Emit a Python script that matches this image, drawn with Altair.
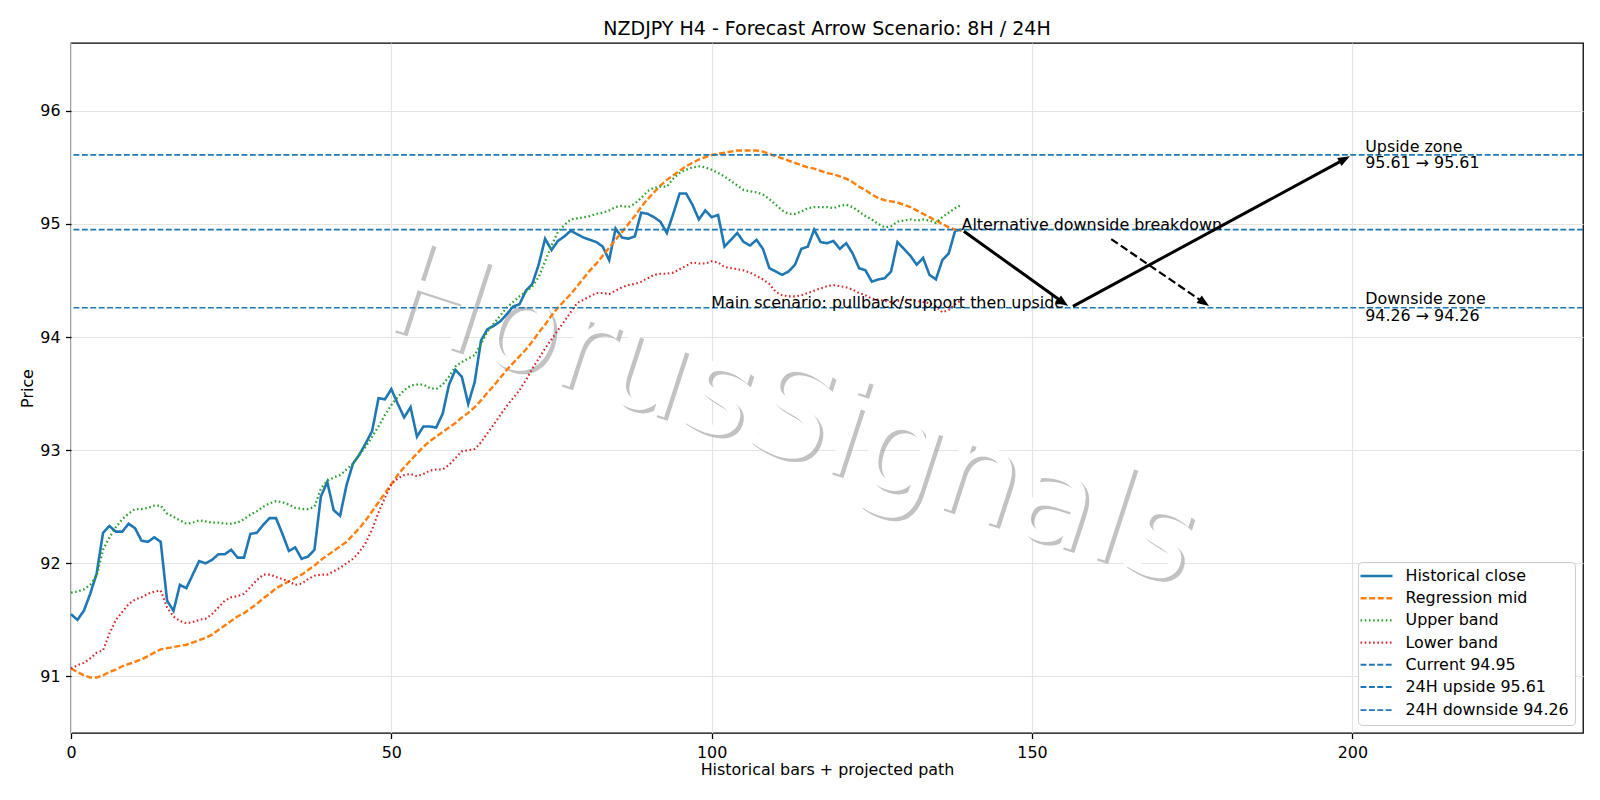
import math
import altair as alt
import pandas as pd

# ---------------- data ----------------
close = [91.55, 91.50, 91.58, 91.73, 91.91, 92.27, 92.33, 92.28, 92.28, 92.35,
         92.31, 92.20, 92.19, 92.23, 92.19, 91.67, 91.58, 91.81, 91.78, 91.90,
         92.02, 92.00, 92.03, 92.08, 92.08, 92.12, 92.05, 92.05, 92.26, 92.27,
         92.34, 92.40, 92.40, 92.26, 92.11, 92.14, 92.04, 92.06, 92.12, 92.59,
         92.72, 92.47, 92.42, 92.69, 92.88, 92.96, 93.06, 93.17, 93.46, 93.45,
         93.54, 93.41, 93.29, 93.38, 93.12, 93.21, 93.21, 93.20, 93.32, 93.58,
         93.71, 93.65, 93.41, 93.60, 93.97, 94.07, 94.10, 94.14, 94.20, 94.27,
         94.29, 94.41, 94.47, 94.64, 94.87, 94.77, 94.85, 94.89, 94.94, 94.91,
         94.88, 94.86, 94.84, 94.80, 94.68, 94.96, 94.88, 94.87, 94.89, 95.10,
         95.09, 95.06, 95.02, 94.92, 95.09, 95.27, 95.27, 95.17, 95.04, 95.12,
         95.06, 95.08, 94.80, 94.86, 94.92, 94.84, 94.81, 94.86, 94.78, 94.61,
         94.58, 94.55, 94.58, 94.64, 94.78, 94.80, 94.95, 94.84, 94.83, 94.85,
         94.78, 94.83, 94.74, 94.61, 94.59, 94.49, 94.51, 94.52, 94.58, 94.84,
         94.78, 94.72, 94.64, 94.70, 94.55, 94.51, 94.68, 94.74, 94.94, 94.95]

reg_mid = [91.07, 91.04, 91.01, 90.99, 90.99, 91.01, 91.04, 91.06, 91.09, 91.11,
           91.13, 91.15, 91.18, 91.21, 91.24, 91.25, 91.26, 91.27, 91.28, 91.30,
           91.32, 91.34, 91.37, 91.41, 91.45, 91.49, 91.53, 91.56, 91.60, 91.64,
           91.69, 91.73, 91.78, 91.81, 91.84, 91.87, 91.90, 91.94, 91.98, 92.03,
           92.07, 92.11, 92.15, 92.19, 92.25, 92.31, 92.38, 92.46, 92.54, 92.62,
           92.70, 92.78, 92.85, 92.91, 92.97, 93.03, 93.08, 93.12, 93.16, 93.20,
           93.24, 93.29, 93.33, 93.38, 93.44, 93.51, 93.57, 93.64, 93.71, 93.77,
           93.83, 93.89, 93.96, 94.04, 94.11, 94.19, 94.26, 94.32, 94.38, 94.45,
           94.52, 94.59, 94.65, 94.72, 94.79, 94.86, 94.93, 95.00, 95.07, 95.15,
           95.22, 95.28, 95.34, 95.39, 95.43, 95.47, 95.51, 95.54, 95.57, 95.59,
           95.61, 95.62, 95.63, 95.64, 95.65, 95.65, 95.65, 95.65, 95.64, 95.62,
           95.60, 95.58, 95.56, 95.54, 95.52, 95.50, 95.49, 95.47, 95.45, 95.44,
           95.42, 95.40, 95.37, 95.33, 95.30, 95.26, 95.23, 95.21, 95.20, 95.19,
           95.17, 95.15, 95.12, 95.09, 95.06, 95.03, 95.00, 94.97, 94.95, 94.94]

upper = [91.74, 91.75, 91.77, 91.81, 91.89, 92.12, 92.23, 92.32, 92.39, 92.44,
         92.48, 92.48, 92.49, 92.51, 92.51, 92.44, 92.41, 92.38, 92.35, 92.36,
         92.38, 92.37, 92.36, 92.36, 92.35, 92.35, 92.36, 92.39, 92.43, 92.46,
         92.50, 92.53, 92.55, 92.54, 92.52, 92.49, 92.48, 92.48, 92.50, 92.66,
         92.73, 92.76, 92.78, 92.83, 92.88, 92.96, 93.03, 93.12, 93.21, 93.31,
         93.40, 93.47, 93.53, 93.57, 93.58, 93.58, 93.55, 93.54, 93.58, 93.65,
         93.74, 93.78, 93.81, 93.84, 93.94, 94.05, 94.12, 94.19, 94.26, 94.31,
         94.36, 94.40, 94.45, 94.53, 94.67, 94.81, 94.93, 94.99, 95.04, 95.05,
         95.06, 95.07, 95.09, 95.10, 95.12, 95.15, 95.16, 95.15, 95.18, 95.23,
         95.29, 95.32, 95.33, 95.33, 95.40, 95.45, 95.48, 95.50, 95.51, 95.50,
         95.48, 95.45, 95.42, 95.38, 95.34, 95.30, 95.29, 95.28, 95.26, 95.22,
         95.17, 95.12, 95.09, 95.09, 95.11, 95.14, 95.15, 95.15, 95.15, 95.14,
         95.16, 95.17, 95.15, 95.11, 95.07, 95.04, 95.00, 94.97, 94.98, 95.02,
         95.03, 95.04, 95.03, 95.04, 95.03, 95.01, 95.06, 95.10, 95.14, 95.17]

lower = [91.07, 91.10, 91.12, 91.16, 91.21, 91.23, 91.38, 91.50, 91.57, 91.64,
         91.68, 91.70, 91.73, 91.75, 91.76, 91.61, 91.53, 91.49, 91.47, 91.48,
         91.50, 91.51, 91.55, 91.61, 91.67, 91.70, 91.71, 91.73, 91.79, 91.85,
         91.90, 91.90, 91.88, 91.86, 91.84, 91.81, 91.82, 91.86, 91.89, 91.90,
         91.90, 91.93, 91.96, 92.00, 92.04, 92.10, 92.18, 92.30, 92.45, 92.58,
         92.70, 92.75, 92.78, 92.79, 92.77, 92.79, 92.82, 92.83, 92.83, 92.87,
         92.93, 92.99, 93.00, 93.01, 93.07, 93.15, 93.23, 93.31, 93.39, 93.46,
         93.53, 93.62, 93.72, 93.81, 93.90, 93.98, 94.06, 94.14, 94.22, 94.30,
         94.33, 94.36, 94.39, 94.39, 94.38, 94.41, 94.44, 94.46, 94.47, 94.49,
         94.52, 94.55, 94.56, 94.56, 94.57, 94.60, 94.63, 94.66, 94.65, 94.65,
         94.67, 94.66, 94.62, 94.61, 94.60, 94.59, 94.57, 94.54, 94.51, 94.47,
         94.40, 94.37, 94.36, 94.36, 94.37, 94.39, 94.41, 94.43, 94.45, 94.46,
         94.45, 94.44, 94.42, 94.39, 94.37, 94.34, 94.33, 94.32, 94.31, 94.32,
         94.33, 94.33, 94.32, 94.31, 94.30, 94.27, 94.22, 94.24, 94.29, 94.33]

bars = list(range(len(close)))

current_level = 94.95
upside_level = 95.61
downside_level = 94.26

series_names = ["Historical close", "Regression mid", "Upper band", "Lower band",
                "Current 94.95", "24H upside 95.61", "24H downside 94.26"]
series_colors = ["#1f77b4", "#ff7f0e", "#2ca02c", "#d62728",
                 "#1f77b4", "#1f77b4", "#1f77b4"]
series_dash = [[1, 0], [6, 2.6], [1.6, 2.6], [1.6, 2.6],
               [5.9, 2.5], [5.9, 2.5], [5.9, 2.5]]
series_width = [2.6, 1.6, 1.6, 1.6, 1.6, 1.6, 1.6]

# arrows (start -> end) in data coordinates
arrow_x0 = [139, 156, 162]
arrow_y0 = [94.95, 94.26, 94.88]
arrow_x1 = [156, 200, 178]
arrow_y1 = [94.26, 95.61, 94.26]
arrow_dashed = [False, False, True]

note_text = ["Alternative downside breakdown", "Main scenario: pullback/support then upside"]
note_x = [139, 155]
note_y = [94.95, 94.26]

zone_text = ["Upside zone\n95.61 \u2192 95.61", "Downside zone\n94.26 \u2192 94.26"]
zone_x = [202, 202]
zone_y = [95.61, 94.26]

x_ticks = [0, 50, 100, 150, 200]
y_ticks = [91, 92, 93, 94, 95, 96]
x_domain = [0, 236]
y_domain = [90.5, 96.6]

watermark = "HorusSignals"
title_text = "NZDJPY H4 - Forecast Arrow Scenario: 8H / 24H"

# ---------------- layout ----------------
FIG_W, FIG_H = 1600, 800
PAD_L, PAD_T, PAD_R, PAD_B = 71, 43, 17, 67
W = FIG_W - PAD_L - PAD_R
H = FIG_H - PAD_T - PAD_B
FONT = "DejaVu Sans"
FS = 15.9          # 10pt text
LINE_H = 16.5      # zone text line height

# ---------------- frames ----------------
line_rows = []
for name, vals in zip(series_names[:4], [close, reg_mid, upper, lower]):
    for b, v in zip(bars, vals):
        line_rows.append({"bar": b, "price": v, "series": name})
lines_df = pd.DataFrame(line_rows)

levels_df = pd.DataFrame({"series": series_names[4:],
                          "level": [current_level, upside_level, downside_level]})

sx = W / (x_domain[1] - x_domain[0])
sy = H / (y_domain[1] - y_domain[0])
shrink = 2.8
head_len = 12.0
arrow_rows = []
for x0, y0, x1, y1, d in zip(arrow_x0, arrow_y0, arrow_x1, arrow_y1, arrow_dashed):
    vx = (x1 - x0) * sx
    vy = -(y1 - y0) * sy
    L = math.hypot(vx, vy)
    ux, uy = vx / L, vy / L
    tx, ty = x1 - ux * shrink / sx, y1 + uy * shrink / sy
    bx, by = x0 + ux * shrink / sx, y0 - uy * shrink / sy
    ex, ey = tx - ux * (head_len * 0.8) / sx, ty + uy * (head_len * 0.8) / sy
    ang = math.degrees(math.atan2(ux, -uy)) % 360
    arrow_rows.append({"x": bx, "y": by, "x2": ex, "y2": ey, "tx": tx, "ty": ty,
                       "ang": ang, "dashed": d})
arrows_df = pd.DataFrame(arrow_rows)

notes_df = pd.DataFrame({"text": note_text, "x": note_x, "y": note_y})
zones_df = pd.DataFrame({"text": zone_text, "x": zone_x, "y": zone_y})
wm_df = pd.DataFrame({"t": [watermark]})

xs = alt.Scale(domain=x_domain, nice=False, zero=False)
ys = alt.Scale(domain=y_domain, nice=False, zero=False)

# legend: a wide stroke path drawn in a small symbol box so rows stay compact
sym_size = 177
legend = alt.Legend(title=None, orient="bottom-right", offset=8,
                    fillColor="rgba(255,255,255,0.85)", strokeColor="#cccccc",
                    cornerRadius=4, padding=6,
                    symbolType="M-2.4,0H2.4", symbolSize=sym_size,
                    symbolOffset=4.5,
                    labelFont=FONT, labelFontSize=FS, labelColor="black",
                    labelLimit=400, labelOffset=21, rowPadding=6.2)

color_enc = alt.Color("series:N", scale=alt.Scale(domain=series_names, range=series_colors),
                      legend=legend)
dash_enc = alt.StrokeDash("series:N", scale=alt.Scale(domain=series_names, range=series_dash),
                          legend=legend)
width_enc = alt.StrokeWidth("series:N", scale=alt.Scale(domain=series_names, range=series_width),
                            legend=legend)

x_axis = alt.Axis(values=x_ticks, title="Historical bars + projected path", grid=True,
                  titlePadding=2, labelFlush=False, format="d")
y_axis = alt.Axis(values=y_ticks, title="Price", grid=True, titlePadding=4, format="d")

# watermark (drawn beneath the data)
cx = 792 - PAD_L
cy = 418 - PAD_T
wm_shadow = alt.Chart(wm_df).mark_text(
    font=FONT, fontSize=129, angle=18, align="center", baseline="middle",
    color="#9a9a9a", opacity=0.6
).encode(x=alt.value(cx + 3.5), y=alt.value(cy + 3.5), text="t:N")
wm_front = alt.Chart(wm_df).mark_text(
    font=FONT, fontSize=129, angle=18, align="center", baseline="middle",
    color="white", opacity=1
).encode(x=alt.value(cx), y=alt.value(cy), text="t:N")

lines = alt.Chart(lines_df).mark_line().encode(
    x=alt.X("bar:Q", scale=xs, axis=x_axis),
    y=alt.Y("price:Q", scale=ys, axis=y_axis),
    color=color_enc, strokeDash=dash_enc, strokeWidth=width_enc,
    detail="series:N",
)

levels = alt.Chart(levels_df).mark_rule().encode(
    y=alt.Y("level:Q", scale=ys),
    color=color_enc, strokeDash=dash_enc, strokeWidth=width_enc,
)

shaft_solid = alt.Chart(arrows_df[~arrows_df["dashed"]]).mark_rule(
    color="black", strokeWidth=3.0
).encode(x=alt.X("x:Q", scale=xs), y=alt.Y("y:Q", scale=ys), x2="x2:Q", y2="y2:Q")

shaft_dash = alt.Chart(arrows_df[arrows_df["dashed"]]).mark_rule(
    color="black", strokeWidth=2.2, strokeDash=[8, 3.6]
).encode(x=alt.X("x:Q", scale=xs), y=alt.Y("y:Q", scale=ys), x2="x2:Q", y2="y2:Q")

heads = alt.Chart(arrows_df).mark_point(
    shape="M0,0L-0.75,2L0.75,2Z", filled=True, color="black", opacity=1,
    size=(head_len) ** 2, strokeWidth=0
).encode(x=alt.X("tx:Q", scale=xs), y=alt.Y("ty:Q", scale=ys),
         angle=alt.Angle("ang:Q", scale=None))

note_left = alt.Chart(notes_df.iloc[[0]]).mark_text(
    font=FONT, fontSize=FS, color="black", align="left", baseline="alphabetic"
).encode(x=alt.X("x:Q", scale=xs), y=alt.Y("y:Q", scale=ys), text="text:N")

note_right = alt.Chart(notes_df.iloc[[1]]).mark_text(
    font=FONT, fontSize=FS, color="black", align="right", baseline="alphabetic"
).encode(x=alt.X("x:Q", scale=xs), y=alt.Y("y:Q", scale=ys), text="text:N")

zones = alt.Chart(zones_df).mark_text(
    font=FONT, fontSize=FS, color="black", align="left", baseline="middle",
    lineBreak="\n", lineHeight=LINE_H, dy=-LINE_H / 2
).encode(x=alt.X("x:Q", scale=xs), y=alt.Y("y:Q", scale=ys), text="text:N")

chart = alt.layer(
    wm_shadow, wm_front, lines, levels, shaft_solid, shaft_dash, heads,
    note_left, note_right, zones
).properties(
    width=W, height=H,
    title=alt.TitleParams(title_text, font=FONT, fontSize=19, fontWeight="normal",
                          color="black", anchor="middle", offset=4),
    autosize=alt.AutoSizeParams(type="none"),
    padding={"left": PAD_L, "top": PAD_T, "right": PAD_R, "bottom": PAD_B},
    background="white",
).configure_view(
    stroke="black", strokeWidth=1.27
).configure_axis(
    labelFont=FONT, labelFontSize=FS, labelColor="black",
    titleFont=FONT, titleFontSize=FS, titleFontWeight="normal", titleColor="black",
    tickColor="black", tickSize=5.5, tickWidth=1.27, labelPadding=5.5,
    gridColor="#e4e4e4", gridWidth=1.2, domain=False
)

chart.save("out.html", embed_options={"renderer": "svg", "actions": False})
